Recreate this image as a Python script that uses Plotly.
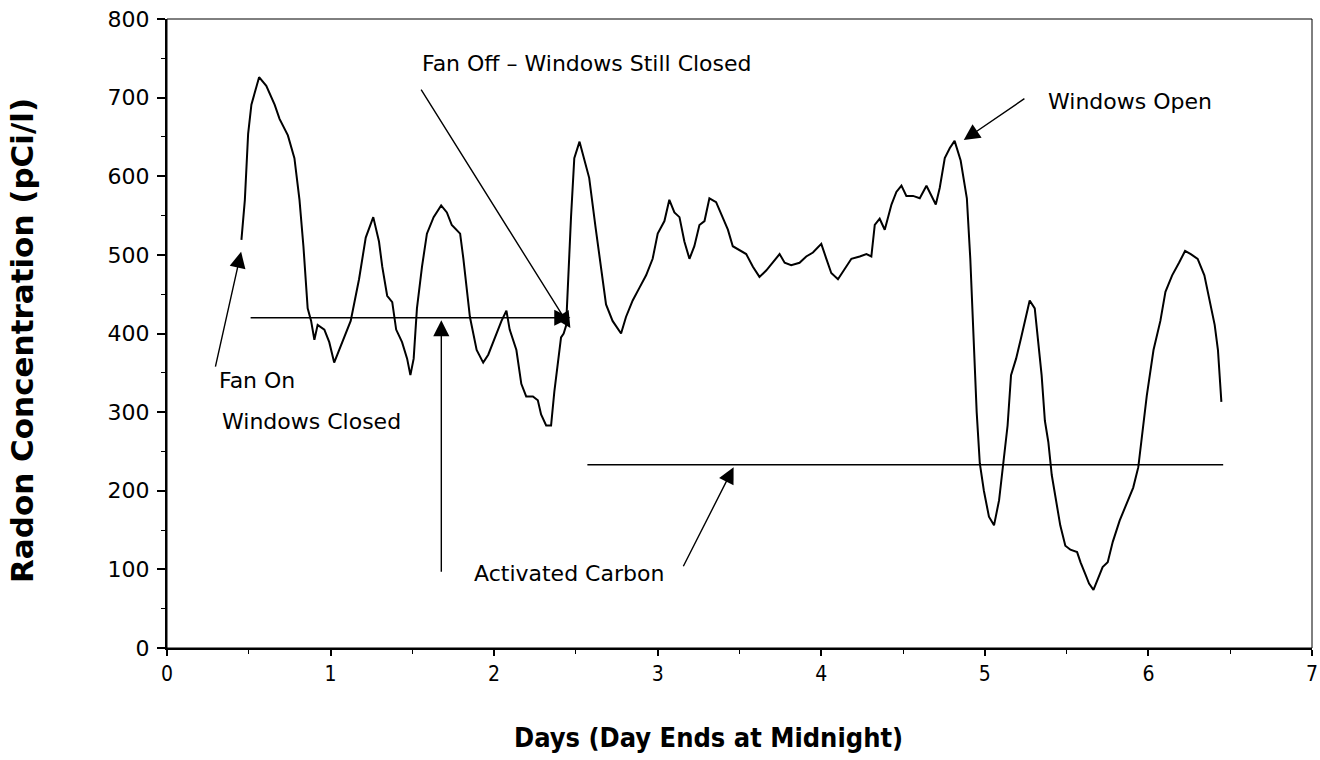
import plotly.graph_objects as go

# Radon concentration record (days since start, pCi/l)
days = [
    0.455, 0.476, 0.496, 0.516, 0.563, 0.607, 0.658, 0.688, 0.739, 0.779,
    0.810, 0.834, 0.860, 0.881, 0.901, 0.921, 0.962, 0.992, 1.022, 1.063,
    1.123, 1.174, 1.215, 1.261, 1.296, 1.316, 1.346, 1.377, 1.401, 1.437,
    1.468, 1.488, 1.508, 1.528, 1.559, 1.589, 1.630, 1.676, 1.711, 1.741,
    1.792, 1.812, 1.852, 1.893, 1.933, 1.964, 2.004, 2.045, 2.075, 2.095,
    2.136, 2.166, 2.196, 2.237, 2.267, 2.287, 2.318, 2.348, 2.368, 2.389,
    2.409, 2.425, 2.440, 2.470, 2.490, 2.522, 2.551, 2.581, 2.620, 2.653,
    2.684, 2.724, 2.776, 2.806, 2.847, 2.888, 2.929, 2.969, 3.000, 3.041,
    3.071, 3.102, 3.133, 3.163, 3.194, 3.224, 3.255, 3.286, 3.316, 3.357,
    3.398, 3.429, 3.459, 3.500, 3.541, 3.582, 3.622, 3.663, 3.704, 3.745,
    3.776, 3.816, 3.867, 3.908, 3.949, 4.000, 4.031, 4.061, 4.102, 4.143,
    4.184, 4.235, 4.276, 4.306, 4.327, 4.357, 4.388, 4.429, 4.459, 4.490,
    4.520, 4.561, 4.602, 4.643, 4.673, 4.700, 4.724, 4.755, 4.786, 4.815,
    4.852, 4.890, 4.911, 4.932, 4.950, 4.969, 4.994, 5.025, 5.056, 5.087,
    5.118, 5.139, 5.160, 5.191, 5.222, 5.249, 5.274, 5.305, 5.326, 5.347,
    5.367, 5.388, 5.409, 5.440, 5.461, 5.492, 5.523, 5.564, 5.585, 5.616,
    5.637, 5.664, 5.689, 5.720, 5.751, 5.782, 5.824, 5.865, 5.907, 5.938,
    5.959, 5.990, 6.031, 6.073, 6.104, 6.145, 6.187, 6.224, 6.259, 6.301,
    6.342, 6.373, 6.405, 6.425, 6.446,
]
radon = [
    519, 570, 654, 691, 726, 715, 691, 673, 652, 623,
    570, 511, 432, 416, 392, 411, 405, 389, 363, 384,
    416, 469, 522, 548, 517, 485, 448, 440, 405, 389,
    368, 347, 368, 432, 485, 527, 548, 563, 554, 538,
    527, 495, 421, 379, 363, 373, 395, 416, 429, 405,
    379, 336, 320, 320, 315, 297, 283, 283, 326, 363,
    395, 400, 410, 548, 623, 644, 620, 598, 535, 485,
    437, 416, 400, 421, 442, 458, 474, 495, 527, 543,
    570, 554, 548, 517, 495, 511, 538, 543, 572, 567,
    548, 532, 511, 506, 501, 485, 472, 480, 490, 501,
    490, 487, 490, 498, 503, 514, 495, 477, 469, 482,
    495, 498, 501, 498, 538, 546, 532, 564, 580, 588,
    575, 575, 572, 588, 575, 564, 585, 623, 636, 645,
    620, 572, 495, 400, 300, 235, 200, 167, 156, 188,
    241, 283, 347, 368, 395, 421, 442, 432, 389, 347,
    289, 262, 220, 183, 156, 130, 125, 122, 109, 93,
    82, 74, 87, 103, 109, 135, 162, 183, 204, 230,
    268, 321, 379, 416, 453, 474, 490, 505, 501, 495,
    474, 442, 411, 379, 313,
]

x_ticks = [0, 1, 2, 3, 4, 5, 6, 7]
y_ticks = [0, 100, 200, 300, 400, 500, 600, 700, 800]

label_fan_on = "Fan On"
label_closed = "Windows Closed"
label_fan_off = "Fan Off \u2013 Windows Still Closed"
label_open = "Windows Open"
label_carbon = "Activated Carbon"

# Reference levels drawn as horizontal lines
fan_level = 420
carbon_level = 233

x_title = "Days (Day Ends at Midnight)"
y_title = "Radon Concentration (pCi/l)"

ANN_FONT = dict(family="DejaVu Sans", size=22, color="black")
XTITLE_FONT = dict(family="DejaVu Sans Condensed, DejaVu Sans", size=27, color="black")
YTITLE_FONT = dict(family="DejaVu Sans", size=31, color="black")

fig = go.Figure()
fig.add_trace(go.Scatter(
    x=days, y=radon, mode="lines",
    line=dict(color="black", width=2),
    hoverinfo="skip", showlegend=False,
))

arrow_style = dict(showarrow=True, arrowhead=2, arrowsize=2.3, arrowwidth=1.4,
                   arrowcolor="black", axref="x", ayref="y", text="")

annotations = [
    # Fan On arrow
    dict(x=0.453, y=504, ax=0.294, ay=356, **arrow_style),
    # horizontal fan-level line ending in an arrow
    dict(x=2.466, y=fan_level, ax=0.502, ay=fan_level, **arrow_style),
    # vertical arrow from Activated Carbon label up to the fan level
    dict(x=1.677, y=fan_level - 3, ax=1.677, ay=95, **arrow_style),
    # Fan Off arrow
    dict(x=2.466, y=407, ax=1.548, ay=712, **arrow_style),
    # Windows Open arrow
    dict(x=4.871, y=646, ax=5.251, ay=700, **arrow_style),
    # Activated Carbon arrow
    dict(x=3.464, y=carbon_level - 3, ax=3.152, ay=102, **arrow_style),
]

text_items = [
    (label_fan_on, 0.306, 340),
    (label_closed, 0.324, 288),
    (label_fan_off, 1.548, 744),
    (label_open, 5.373, 695),
    (label_carbon, 1.867, 95),
]
for txt, xv, yv in text_items:
    annotations.append(dict(x=xv, y=yv, text=txt, showarrow=False,
                            xanchor="left", yanchor="middle", font=ANN_FONT))

annotations.append(dict(text=f"<b>{x_title}</b>", xref="paper", yref="paper",
                        x=0.473, y=-0.143, showarrow=False,
                        xanchor="center", yanchor="middle", font=XTITLE_FONT))
annotations.append(dict(text=f"<b>{y_title}</b>", xref="paper", yref="paper",
                        x=-0.1266, y=0.488, showarrow=False, textangle=-90,
                        xanchor="center", yanchor="middle", font=YTITLE_FONT))

shapes = [
    dict(type="line", xref="x", yref="y", x0=2.57, x1=6.457,
         y0=carbon_level, y1=carbon_level, line=dict(color="black", width=1.6)),
    # thin frame along the top and right
    dict(type="rect", xref="paper", yref="paper", x0=0, x1=1, y0=0, y1=1,
         line=dict(color="black", width=1)),
]

fig.update_layout(
    width=1320, height=760,
    margin=dict(l=167, r=8, t=19, b=112, autoexpand=False),
    paper_bgcolor="white", plot_bgcolor="white",
    annotations=annotations, shapes=shapes,
    showlegend=False,
)
fig.update_xaxes(
    range=[0, 7], tickvals=x_ticks, ticktext=[str(t) for t in x_ticks],
    showgrid=False, zeroline=False, automargin=False,
    showline=True, linecolor="black", linewidth=2,
    ticks="outside", ticklen=6, tickwidth=1.5, tickcolor="black",
    minor=dict(dtick=0.5, ticks="outside", ticklen=4, tickcolor="black", tickwidth=1),
    tickfont=dict(family="DejaVu Sans Condensed, DejaVu Sans", size=21, color="black"),
)
fig.update_yaxes(
    range=[0, 800], tickvals=y_ticks, ticktext=[str(t) for t in y_ticks],
    showgrid=False, zeroline=False, automargin=False,
    showline=True, linecolor="black", linewidth=2,
    ticks="outside", ticklen=8, tickwidth=1.5, tickcolor="black",
    minor=dict(dtick=50, ticks="outside", ticklen=4, tickcolor="black", tickwidth=1),
    tickfont=dict(family="DejaVu Sans", size=22, color="black"),
    ticklabelstandoff=3,
)

fig.write_html("out.html")
